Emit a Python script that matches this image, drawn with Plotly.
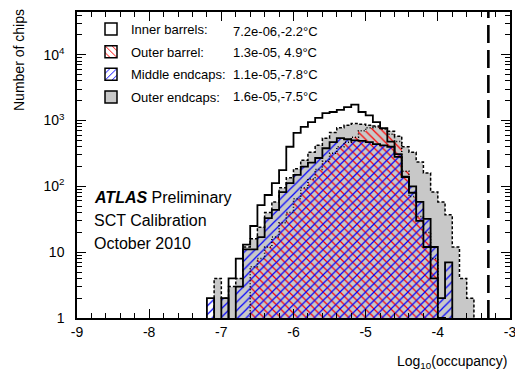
import plotly.graph_objects as go

# ---------------- data ----------------
bin_left = [-7.3, -7.2, -7.1, -7.0, -6.9, -6.8, -6.7, -6.6, -6.5, -6.4,
            -6.3, -6.2, -6.1, -6.0, -5.9, -5.8, -5.7, -5.6, -5.5, -5.4,
            -5.3, -5.2, -5.1, -5.0, -4.9, -4.8, -4.7, -4.6, -4.5, -4.4,
            -4.3, -4.2, -4.1, -4.0, -3.9, -3.8, -3.7, -3.6, -3.5]
bin_width = 0.1

inner_barrels = [0, 0, 0, 0, 4, 8, 13, 25, 52, 74,
                 112, 177, 400, 650, 800, 950, 1100, 1300, 1350, 1450,
                 1600, 1750, 1350, 1200, 950, 770, 480, 280, 140, 80,
                 30, 12, 4, 1, 0, 0, 0, 0, 0]
outer_barrel = [0, 0, 0, 0, 0, 0, 0, 6, 8, 12,
                17, 28, 40, 65, 95, 130, 180, 240, 320, 400,
                470, 560, 700, 780, 800, 740, 620, 480, 170, 70,
                35, 20, 8, 0, 0, 0, 0, 0, 0]
middle_endcaps = [0, 2, 0, 2, 0, 3, 11, 11, 17, 33,
                  44, 82, 112, 150, 200, 230, 270, 380, 470, 540,
                  520, 500, 490, 470, 440, 420, 400, 310, 139, 100,
                  58, 32, 12, 2, 7, 0, 0, 0, 0]
outer_endcaps = [0, 0, 4, 2, 3, 4, 12, 16, 24, 40,
                 58, 95, 135, 185, 250, 330, 420, 540, 660, 780,
                 850, 900, 880, 850, 830, 760, 690, 580, 400, 330,
                 235, 160, 82, 58, 37, 12, 4, 2, 0]

legend_names = ["Inner barrels:", "Outer barrel:", "Middle endcaps:", "Outer endcaps:"]
legend_values = ["7.2e-06,-2.2\u00b0C", "1.3e-05, 4.9\u00b0C", "1.1e-05,-7.8\u00b0C", "1.6e-05,-7.5\u00b0C"]

threshold = -3.3

x_ticks = [-9, -8, -7, -6, -5, -4, -3]
x_ticktext = ["-9", "-8", "-7", "-6", "-5", "-4", "-3"]
y_ticks = [1, 10, 100, 1000, 10000]
y_ticktext = ["1", "10", "10<sup>2</sup>", "10<sup>3</sup>", "10<sup>4</sup>"]
y_minor = [m * 10 ** e for e in range(0, 5) for m in range(2, 10)]

FONT = "Liberation Sans, Arial, sans-serif"

# ---------------- helpers ----------------
centers = [round(b + bin_width / 2, 3) for b in bin_left]
edges = bin_left + [round(bin_left[-1] + bin_width, 2)]
FLOOR = 0.1

# page has an 8px body margin; figure sized so the plot frame lands where the reference has it
W, H = 515, 368
ML, MR, MT, MB = 69, 13, 4, 58
PW, PH = W - ML - MR, H - MT - MB
PLOT_LEFT_PAGE, PLOT_TOP_PAGE = 77, 12


def px_x(p):
    return (p - PLOT_LEFT_PAGE) / PW


def px_y(p):
    return 1 - (p - PLOT_TOP_PAGE) / PH


def bars(vals):
    return [v if v > 0 else None for v in vals]


def outline(vals):
    xs = [edges[0]] + edges[:-1] + [edges[-1]]
    ys = [FLOOR] + [v if v > 0 else FLOOR for v in vals] + [FLOOR]
    return xs, ys


def first_line(w):
    return [w] + [0] * (len(bin_left) - 1)


fig = go.Figure()

fig.add_trace(go.Bar(x=centers, y=bars(inner_barrels), width=bin_width,
                     marker=dict(color="white", line=dict(color="black", width=first_line(1.5))),
                     name=legend_names[0], legendrank=1, legendgroup="a"))
fig.add_trace(go.Bar(x=centers, y=bars(outer_endcaps), width=bin_width,
                     marker=dict(color="#c8c8c8", line=dict(color="black", width=first_line(1.5))),
                     name=legend_names[3], legendrank=4, legendgroup="d"))
fig.add_trace(go.Bar(x=centers, y=bars(outer_barrel), width=bin_width,
                     marker=dict(color="red", line=dict(color="black", width=first_line(1.5)),
                                 pattern=dict(shape="\\", fgcolor="red", bgcolor="rgba(0,0,0,0)",
                                              size=6, solidity=0.2, fillmode="replace")),
                     name=legend_names[1], legendrank=2, legendgroup="b"))
fig.add_trace(go.Bar(x=centers, y=bars(middle_endcaps), width=bin_width,
                     marker=dict(color="blue", line=dict(color="black", width=first_line(1.5)),
                                 pattern=dict(shape="/", fgcolor="blue", bgcolor="rgba(0,0,0,0)",
                                              size=6, solidity=0.2, fillmode="replace")),
                     name=legend_names[2], legendrank=3, legendgroup="c"))

for vals, dash, w in [(outer_endcaps, "3px,2px", 1.5),
                      (inner_barrels, "solid", 1.8),
                      (outer_barrel, "1px,2px", 1.5),
                      (middle_endcaps, "solid", 1.8)]:
    xs, ys = outline(vals)
    fig.add_trace(go.Scatter(x=xs, y=ys, mode="lines", line=dict(shape="hv", color="black", width=w, dash=dash),
                             showlegend=False, hoverinfo="skip"))

fig.add_shape(type="line", x0=threshold, x1=threshold, xref="x", yref="paper", y0=0, y1=1,
              line=dict(color="black", width=2.6, dash="18px,7px"))

axis_common = dict(showline=True, linecolor="black", linewidth=1.5, mirror="allticks", automargin=False,
                   ticks="inside", tickcolor="black", tickwidth=1, showgrid=False, zeroline=False,
                   tickfont=dict(size=14, family=FONT, color="black"))

fig.update_xaxes(range=[-9, -3], tickmode="array", tickvals=x_ticks, ticktext=x_ticktext, ticklen=9,
                 minor=dict(dtick=0.2, tick0=-9, ticklen=5, ticks="inside", tickcolor="black", tickwidth=1, showgrid=False),
                 **axis_common)
fig.update_yaxes(type="log", range=[0, 4.65], tickmode="array", tickvals=y_ticks, ticktext=y_ticktext, ticklen=9,
                 ticklabelstandoff=8,
                 minor=dict(tickmode="array", tickvals=y_minor, ticklen=5, ticks="inside", tickcolor="black", tickwidth=1, showgrid=False),
                 **axis_common)

txt = dict(size=16, family=FONT, color="black")
fig.add_annotation(text="<b><i>ATLAS</i></b> Preliminary", x=px_x(92), y=px_y(198), xref="paper", yref="paper",
                   xanchor="left", yanchor="middle", showarrow=False, font=txt)
fig.add_annotation(text="SCT Calibration", x=px_x(92), y=px_y(220), xref="paper", yref="paper",
                   xanchor="left", yanchor="middle", showarrow=False, font=txt)
fig.add_annotation(text="October 2010", x=px_x(92), y=px_y(243), xref="paper", yref="paper",
                   xanchor="left", yanchor="middle", showarrow=False, font=txt)
fig.add_annotation(text="Number of chips", textangle=-90, x=px_x(19), y=px_y(7), xref="paper", yref="paper",
                   xanchor="center", yanchor="top", showarrow=False, font=dict(size=14, family=FONT, color="black"))
fig.add_annotation(text="Log<sub>10</sub>(occupancy)", x=1.0, y=px_y(362), xref="paper", yref="paper",
                   xanchor="right", yanchor="middle", showarrow=False, font=dict(size=14, family=FONT, color="black"))

for val, row in zip(legend_values, [31, 53, 75, 96]):
    fig.add_annotation(text=val, x=px_x(231), y=px_y(row), xref="paper", yref="paper",
                       xanchor="left", yanchor="middle", showarrow=False,
                       font=dict(size=13, family=FONT, color="black"))

fig.update_layout(template="none", width=W, height=H, margin=dict(l=ML, r=MR, t=MT, b=MB),
                  plot_bgcolor="white", paper_bgcolor="white",
                  barmode="overlay", bargap=0,
                  font=dict(family=FONT, color="black"),
                  legend=dict(x=px_x(91), y=px_y(14), xanchor="left", yanchor="top", bgcolor="rgba(0,0,0,0)",
                              font=dict(size=13, family=FONT, color="black"), traceorder="grouped",
                              tracegroupgap=2.8))

fig.write_html("out.html")
